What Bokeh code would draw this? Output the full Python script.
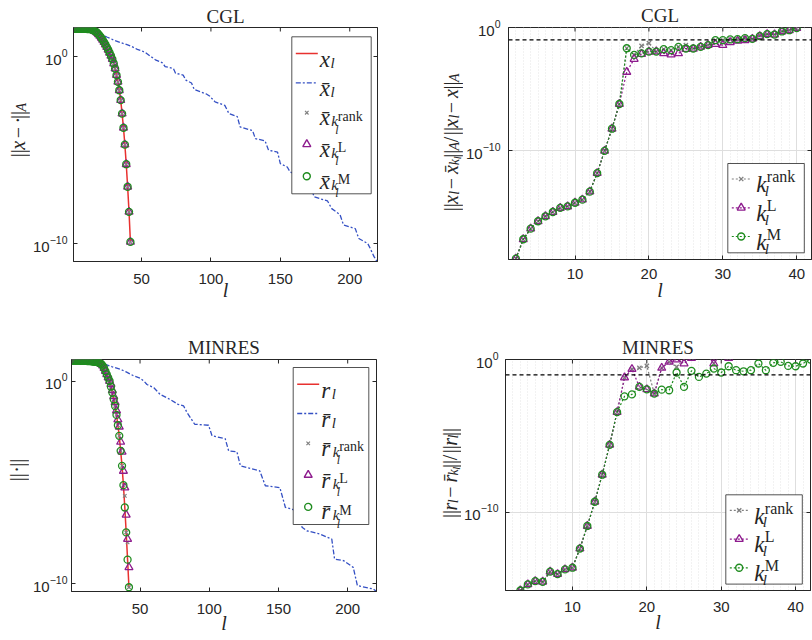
import math
import numpy as np
from bokeh.plotting import figure
from bokeh.core.properties import value
from bokeh.models import (Range1d, LogAxis, FixedTicker, LogTickFormatter,
                          CustomJSTickFormatter, Span, Title)
from bokeh.layouts import column, row
from bokeh.embed import file_html
from bokeh.resources import INLINE

# ================= data (all values are log10 of the plotted quantity) =================
# --- CGL, left panel: error norms ---
cgl_l = list(range(1, 43))
cgl_xl_log = [1.50, 1.50, 1.50, 1.50, 1.50, 1.50, 1.50, 1.50, 1.50, 1.50, 1.49, 1.49, 1.48,
              1.46, 1.43, 1.39, 1.35, 1.29, 1.21, 1.12, 1.02, 0.91, 0.79, 0.66, 0.52, 0.38,
              0.22, 0.06, -0.12, -0.36, -0.63, -0.98, -1.34, -1.79, -2.32, -3.04, -3.80,
              -4.70, -5.75, -6.96, -8.30, -9.91]
cgl_rank_log = list(cgl_xl_log)
cgl_L_log = list(cgl_xl_log)
cgl_M_log = list(cgl_xl_log)
cgl_xbar_l = [1, 8, 14, 18, 21, 25, 30, 35, 40, 43, 47, 50, 53, 56, 58, 60, 65, 67, 73, 74.5,
              80, 82, 86, 88, 97, 99, 103, 110, 113, 119, 121, 130, 132, 139, 141.5, 148, 150,
              155, 157, 163, 166, 168, 172, 174.5, 184, 187, 193, 195.5, 204, 206.5, 213, 215,
              217.5, 220]
cgl_xbar_log = [1.50, 1.50, 1.44, 1.32, 1.20, 1.06, 0.90, 0.76, 0.64, 0.55, 0.40, 0.33, 0.22,
                0.05, -0.05, -0.16, -0.32, -0.52, -0.63, -0.88, -0.98, -1.25, -1.40, -1.75,
                -2.00, -2.10, -2.41, -2.60, -3.04, -3.20, -3.75, -3.95, -4.38, -4.50, -5.00,
                -5.10, -5.72, -5.90, -6.16, -6.34, -6.50, -6.90, -7.05, -7.50, -7.72, -8.13,
                -8.45, -9.00, -9.20, -9.73, -10.00, -10.30, -10.70, -11.00]

# --- CGL, right panel: relative distances ---
cgl_rel_l = list(range(2, 41))
cgl_rel_M_log = [-18.73, -17.16, -16.30, -15.70, -15.30, -14.95, -14.62, -14.50, -14.20,
                 -13.95, -13.30, -11.80, -10.00, -8.20, -6.20,
                 -1.68, -2.22, -2.10, -1.95, -1.95, -1.76, -1.84, -1.57, -1.70, -1.70, -1.57,
                 -1.43, -1.03, -1.03, -0.97, -0.95, -0.86, -0.92, -0.70, -0.54, -0.57, -0.32,
                 -0.22, -0.05]
cgl_rel_L_log = [-18.73, -17.16, -16.30, -15.70, -15.30, -14.95, -14.62, -14.50, -14.20,
                 -13.95, -13.30, -11.80, -10.00, -8.20, -6.20,
                 -3.60, -2.55, -2.15, -1.97, -1.95, -2.10, -2.20, -2.10, -1.75, -1.73, -1.57,
                 -1.43, -1.35, -1.43, -1.20, -1.08, -1.03, -0.92, -0.70, -0.54, -0.57, -0.32,
                 -0.22, -0.05]
cgl_rel_rank_log = [-18.73, -17.16, -16.30, -15.70, -15.30, -14.95, -14.62, -14.50, -14.20,
                    -13.95, -13.30, -11.80, -10.00, -8.20, -6.20,
                    -1.68, -2.22, -1.49, -1.27, -1.95, -1.76, -1.84, -1.57, -1.43, -1.70, -1.57,
                    -1.43, -1.03, -1.03, -0.97, -0.95, -0.86, -0.92, -0.60, -0.54, -0.57, -0.32,
                    -0.22, -0.05]
cgl_threshold = 0.1

# --- MINRES, left panel: residual norms ---
mr_l = list(range(1, 43))
mr_rl_log = [1.00, 1.00, 1.00, 1.00, 1.00, 1.00, 0.99, 0.99, 0.99, 0.99, 0.99, 0.98, 0.98,
             0.98, 0.97, 0.96, 0.95, 0.94, 0.93, 0.91, 0.88, 0.84, 0.76, 0.64, 0.49, 0.33,
             0.17, 0.00, -0.28, -0.57, -0.90, -1.23, -1.67, -2.18, -2.70, -3.44, -4.18,
             -5.13, -6.23, -7.46, -8.80, -10.16]
mr_M_log = list(mr_rl_log)
mr_L_log = [1.00, 1.00, 1.00, 1.00, 1.00, 1.00, 0.99, 0.99, 0.99, 0.99, 0.99, 0.98, 0.98,
            0.98, 0.97, 0.96, 0.95, 0.94, 0.93, 0.91, 0.88, 0.84, 0.76, 0.64, 0.49, 0.33,
            0.17, 0.00, -0.15, -0.45, -0.75, -1.05, -1.45, -1.90, -2.25, -3.00, -3.49,
            -4.43, -5.25, -6.59, -7.79, -9.18]
mr_rank_log = [1.00, 1.00, 1.00, 1.00, 1.00, 1.00, 0.99, 0.99, 0.99, 0.99, 0.99, 0.98, 0.98,
               0.98, 0.97, 0.96, 0.95, 0.94, 0.93, 0.91, 0.88, 0.84, 0.76, 0.64, 0.49, 0.33,
               0.17, 0.00, -0.28, -0.57, -0.90, -1.23, -1.67, -2.18, -2.70, -3.44, -4.18,
               -5.13, -5.66, -7.46, -7.95, -10.16]
mr_rbar_l = [1, 10, 15, 20, 25, 30, 36, 40, 45, 50, 53, 55, 60, 64.5, 70, 72, 77.5, 81.5, 84,
             89.5, 99.5, 102, 111.5, 114, 120, 122.5, 136.5, 140.5, 151, 155, 160, 165, 167,
             170.5, 180, 188.5, 190.5, 197, 204, 207, 218.5, 221]
mr_rbar_log = [1.00, 1.00, 0.99, 0.95, 0.82, 0.70, 0.57, 0.45, 0.27, 0.14, -0.02, -0.17, -0.33,
               -0.66, -0.85, -0.92, -1.15, -1.23, -1.56, -2.13, -2.18, -2.70, -2.84, -3.44,
               -3.49, -4.18, -4.43, -5.16, -5.25, -6.23, -6.32, -6.45, -7.20, -7.38, -7.54,
               -7.79, -8.77, -8.85, -9.18, -10.08, -10.25, -10.38]

# --- MINRES, right panel: relative distances ---
mr_rel_l = list(range(3, 43))
mr_rel_M_log = [-15.10, -14.70, -14.49, -14.53, -13.87, -14.03, -13.72, -13.61, -12.36,
                -10.88, -9.30, -7.53, -5.58, -3.44,
                -2.41, -2.28, -1.79, -1.95, -2.23, -1.97, -2.01, -0.85, -1.79, -0.74, -1.14,
                -0.92, -0.59, -0.85, -0.44, -0.70, -0.77, -0.70, -0.26, -0.70, -0.22, -0.15,
                -0.42, -0.44, -0.26, 0.00]
mr_rel_Lr_l = list(range(3, 32))
mr_rel_L_log = [-15.10, -14.70, -14.49, -14.53, -13.87, -14.03, -13.72, -13.61, -12.36,
                -10.88, -9.30, -7.53, -5.58, -3.44,
                -1.18, -0.63, -1.79, -1.95, -2.23, -0.55, -0.15, 0.00, -0.26, 0.10, 0.40,
                0.40, -0.26, 0.40, 0.10]
mr_rel_rank_log = [-15.10, -14.70, -14.49, -14.53, -13.87, -14.03, -13.72, -13.61, -12.36,
                   -10.88, -9.30, -7.53, -5.58, -3.44,
                   -1.18, -0.63, -0.55, -0.42, -2.23, -0.55, -0.15, -0.48, 0.00, 0.10, 0.40,
                   0.40, -0.26, 0.40, 0.10]
mr_threshold = 0.1

big_xticks = [50, 100, 150, 200]
small_xticks = [10, 20, 30, 40]
y_ticks = [1e-10, 1.0]

# ================= styling =================
RED = "#e8312f"
BLUE = "#3450c4"
GRAY = "#808080"
PURPLE = "#8e1c8e"
GREEN = "#1f8c1f"
AX = "#262626"
SANS = "Liberation Sans"
SERIF = "Liberation Serif"
EM = 20.6  # TeX em of axis labels (px)
DASHDOT = "5 2 2 2"
DOTTED = "2 2"
TICK_FONT = "15px"
# approximate glyph advances (em) of Liberation Serif, used to centre label pieces
W_REG = {"|": 0.2, "\u2212": 0.564, "\u00b7": 0.25, "/": 0.278}
W_IT = {"x": 0.444, "l": 0.278, "k": 0.444, "r": 0.389, "A": 0.611}


def text_width(t, size, style):
    tab = W_IT if style == "italic" else W_REG
    return sum(tab.get(ch, 0.5) for ch in t if ch != "\u0304") * size


class Geo:
    """frame geometry in page pixels and axis ranges (x linear, y log10)"""
    def __init__(self, L, T, fw, fh, xr, lyr):
        self.L, self.T, self.fw, self.fh = L, T, fw, fh
        self.B = T + fh
        self.xr, self.lyr = xr, lyr

    def x(self, px):
        return self.xr[0] + (px - self.L) / self.fw * (self.xr[1] - self.xr[0])

    def y(self, py):
        return 10 ** (self.lyr[0] + (self.B - py) / self.fh * (self.lyr[1] - self.lyr[0]))


def style_axis(a, size=TICK_FONT, standoff=6):
    a.major_tick_in = 4
    a.major_tick_out = 0
    a.minor_tick_in = 0
    a.minor_tick_out = 0
    a.axis_line_color = AX
    a.major_tick_line_color = AX
    a.major_label_text_font = SANS
    a.major_label_text_font_size = size
    a.major_label_text_color = AX
    a.major_label_standoff = standoff


def make_fig(g, ox, oy, fig_w, fig_h, xticks, grid, xstand, ystand, title, tstand,
             xlab_stand):
    left = int(round(g.L - ox))
    top = int(round(g.T - oy))
    right = fig_w - left - g.fw
    bottom = fig_h - top - g.fh
    p = figure(frame_width=g.fw, frame_height=g.fh,
               min_border_left=left, min_border_right=right,
               min_border_top=top, min_border_bottom=bottom,
               x_range=Range1d(*g.xr),
               y_range=Range1d(10 ** g.lyr[0], 10 ** g.lyr[1]),
               y_axis_type="log", output_backend="svg", toolbar_location=None,
               title=None, background_fill_color="white", border_fill_color="white")
    p.outline_line_color = AX
    p.outline_line_width = 1
    xa = p.xaxis[0]
    ya = p.yaxis[0]
    xa.ticker = FixedTicker(ticks=xticks)
    ya.ticker = FixedTicker(ticks=y_ticks)
    ya.formatter = LogTickFormatter()
    style_axis(xa, standoff=xstand)
    style_axis(ya, standoff=ystand)
    xa.axis_label = "l"
    xa.axis_label_text_font = SERIF
    xa.axis_label_text_font_style = "italic"
    xa.axis_label_text_font_size = "20px"
    xa.axis_label_text_color = AX
    xa.axis_label_standoff = xlab_stand
    rt = LogAxis(ticker=FixedTicker(ticks=y_ticks),
                 formatter=CustomJSTickFormatter(code="return '';"))
    style_axis(rt, size="1px", standoff=0)
    p.add_layout(rt, "right")
    p.add_layout(Title(text=title, align="center", text_font=SERIF, text_font_size="19px",
                       text_font_style="normal", text_color=AX, standoff=tstand), "above")
    # inward tick marks on the top edge of the box
    p.segment(x0=xticks, x1=xticks, y0=[g.y(g.T)] * len(xticks),
              y1=[g.y(g.T + 4)] * len(xticks), line_color=AX, line_width=1)
    if grid:
        p.xgrid.ticker = FixedTicker(ticks=xticks, minor_ticks=list(range(1, 43)))
        p.xgrid.grid_line_color = "#dedede"
        p.xgrid.minor_grid_line_color = "#e4e4e4"
        p.xgrid.minor_grid_line_dash = "1 2"
        p.ygrid.ticker = FixedTicker(ticks=y_ticks)
        p.ygrid.grid_line_color = "#dedede"
    else:
        p.xgrid.visible = False
        p.ygrid.visible = False
    return p


def side_fig(w, h):
    f = figure(width=w, height=h, x_range=Range1d(0, w), y_range=Range1d(h, 0),
               min_border_left=0, min_border_right=0, min_border_top=0, min_border_bottom=0,
               x_axis_location=None, y_axis_location=None, toolbar_location=None,
               output_backend="svg", title=None, background_fill_color="white",
               border_fill_color="white")
    f.outline_line_color = None
    f.xgrid.visible = False
    f.ygrid.visible = False
    return f


def txt(p, x, y, text, size, style="normal", align="left", baseline="alphabetic", angle=0.0):
    p.text(x=[x], y=[y], text=[text], text_font=value(SERIF),
           text_font_size=value(f"{size}px"), text_font_style=value(style),
           text_align=value(align), text_baseline=value(baseline), angle=angle,
           text_color=AX)


def lab(p, g, px, py, text, size, style="normal"):
    txt(p, g.x(px), g.y(py), text, size, style)


def vlabel(f, base_x, center_y, runs):
    # runs: (text, size, style, baseline shift px, advance in em); f uses pixel coords
    total = sum(r[4] for r in runs) * EM
    y = center_y + total / 2
    for t, s, st, sh, adv in runs:
        w = text_width(t, s, st)
        txt(f, base_x + sh, y - w / 2, t, s, st, align="center", angle=math.pi / 2)
        y -= adv * EM


def arr(v):
    return 10 ** np.array(v, dtype=float)


def left_legend(p, g, bl, bt, bw, sym):
    bh = 157
    p.quad(left=[g.x(bl)], right=[g.x(bl + bw)], top=[g.y(bt)], bottom=[g.y(bt + bh)],
           fill_color="white", line_color=AX, line_width=0.8)
    ys = [bt + d for d in (16.7, 46.0, 75.9, 107.5, 139.4)]
    p.line([g.x(bl + 4), g.x(bl + 26)], [g.y(ys[0])] * 2, line_color=RED, line_width=1.5)
    p.line([g.x(bl + 4), g.x(bl + 26)], [g.y(ys[1])] * 2, line_color=BLUE,
           line_width=1.3, line_dash=DASHDOT)
    p.scatter([g.x(bl + 15)], [g.y(ys[2])], marker="x", size=5, line_color=GRAY, line_width=1.2)
    p.scatter([g.x(bl + 15)], [g.y(ys[3])], marker="triangle", size=8, line_color=PURPLE,
              fill_color=None, line_width=1.4)
    p.scatter([g.x(bl + 15)], [g.y(ys[4])], marker="circle", size=7, line_color=GREEN,
              fill_color=None, line_width=1.4)
    lab(p, g, bl + 28, ys[0] + 6, sym, 23, "italic")
    lab(p, g, bl + 38.6, ys[0] + 9.5, "l", 15, "italic")
    lab(p, g, bl + 28, ys[1] + 6, sym + "\u0304", 23, "italic")
    lab(p, g, bl + 38.6, ys[1] + 9.5, "l", 15, "italic")
    for yy, sup in zip(ys[2:], ("rank", "L", "M")):
        lab(p, g, bl + 28, yy + 5, sym + "\u0304", 23, "italic")
        lab(p, g, bl + 39.5, yy + 8.5, "k", 15, "italic")
        lab(p, g, bl + 46, yy + 3.4, sup, 14, "normal")
        lab(p, g, bl + 43.5, yy + 17, "l", 12, "italic")


def right_legend(p, g, bl, bt):
    bw, bh = 76.5, 89.3
    p.quad(left=[g.x(bl)], right=[g.x(bl + bw)], top=[g.y(bt)], bottom=[g.y(bt + bh)],
           fill_color="white", line_color=AX, line_width=0.8)
    ys = [bt + d for d in (15.5, 44.3, 73.0)]
    specs = [(GRAY, "x", 6, "rank"), (PURPLE, "triangle", 8, "L"), (GREEN, "circle", 7, "M")]
    for yy, (c, m, s, sup) in zip(ys, specs):
        p.line([g.x(bl + 4), g.x(bl + 22)], [g.y(yy)] * 2, line_color=c, line_width=1.2,
               line_dash=DOTTED)
        p.scatter([g.x(bl + 13.4)], [g.y(yy)], marker=m, size=s, line_color=c,
                  fill_color=None, line_width=1.4)
        lab(p, g, bl + 28.4, yy + 5.7, "k", 23, "italic")
        lab(p, g, bl + 39, yy - 2.3, sup, 16, "normal")
        lab(p, g, bl + 37, yy + 12, "l", 15, "italic")


def rel_series(p, l, v, c, m, s):
    p.line(l, arr(v), line_color=c, line_width=1.2, line_dash=DOTTED)
    p.scatter(l, arr(v), marker=m, size=s, line_color=c, fill_color=None, line_width=1.3)


# ================= top-left: CGL errors =================
W1 = 30
g1 = Geo(73, 24, 304, 234, (1, 220), (-10.96, 1.57))
p1 = make_fig(g1, W1, 0, 406 - W1, 320, big_xticks, False, 12, 6, "CGL", 1, -8)
p1.line(cgl_l, arr(cgl_xl_log), line_color=RED, line_width=1.5)
p1.line(cgl_xbar_l, arr(cgl_xbar_log), line_color=BLUE, line_width=1.3, line_dash=DASHDOT)
p1.scatter(cgl_l, arr(cgl_rank_log), marker="x", size=5, line_color=GRAY, line_width=1.2)
p1.scatter(cgl_l, arr(cgl_L_log), marker="triangle", size=8, line_color=PURPLE,
           fill_color=None, line_width=1.3)
p1.scatter(cgl_l, arr(cgl_M_log), marker="circle", size=7, line_color=GREEN,
           fill_color=None, line_width=1.3)
left_legend(p1, g1, 291.3, 33.3, 79.4, "x")
s1 = side_fig(W1, 320)
vlabel(s1, 17, 141, [("||", 20, "normal", 0, 0.5), ("x", 20, "italic", 0, 0.794),
                     ("\u2212", 20, "normal", 0, 1.0), ("\u00b7", 20, "normal", 0, 0.278),
                     ("||", 20, "normal", 0, 0.5), ("A", 14, "italic", 4, 0.525)])

# ================= top-right: CGL relative =================
W2 = 57
g2 = Geo(506, 26, 303, 232, (1, 42), (-18.8, 0.0))
p2 = make_fig(g2, 406 + W2, 0, 406 - W2, 320, small_xticks, True, 9, 8, "CGL", 4, -3)
rel_series(p2, cgl_rel_l, cgl_rel_rank_log, GRAY, "x", 6)
rel_series(p2, cgl_rel_l, cgl_rel_L_log, PURPLE, "triangle", 8)
rel_series(p2, cgl_rel_l, cgl_rel_M_log, GREEN, "circle", 7)
p2.add_layout(Span(location=cgl_threshold, dimension="width", line_color="black",
                   line_dash="4 3", line_width=1.2))
right_legend(p2, g2, 725.3, 162)
s2 = side_fig(W2, 320)
vlabel(s2, 44, 158, [("||", 20, "normal", 0, 0.5), ("x", 20, "italic", 0, 0.572),
                     ("l", 14, "italic", 4, 0.432), ("\u2212", 20, "normal", 0, 1.0),
                     ("x\u0304", 20, "italic", 0, 0.572), ("k", 14, "italic", 4, 0.365),
                     ("l", 10.5, "italic", 7, 0.15), ("||", 20, "normal", 0, 0.5),
                     ("A", 14, "italic", 4, 0.525), ("/", 20, "normal", 0, 0.5),
                     ("||", 20, "normal", 0, 0.5), ("x", 20, "italic", 0, 0.572),
                     ("l", 14, "italic", 4, 0.432), ("\u2212", 20, "normal", 0, 1.0),
                     ("x", 20, "italic", 0, 0.572), ("||", 20, "normal", 0, 0.5),
                     ("A", 14, "italic", 4, 0.525)])

# ================= bottom-left: MINRES residuals =================
W3 = 29
g3 = Geo(71, 357, 305, 232, (0.5, 220.8), (-10.37, 1.06))
p3 = make_fig(g3, W3, 320, 406 - W3, 320, big_xticks, False, 12, 4, "MINRES", 4, -5)
p3.line(mr_l, arr(mr_rl_log), line_color=RED, line_width=1.5)
p3.line(mr_rbar_l, arr(mr_rbar_log), line_color=BLUE, line_width=1.3, line_dash=DASHDOT)
p3.scatter(mr_l, arr(mr_rank_log), marker="x", size=5, line_color=GRAY, line_width=1.2)
p3.scatter(mr_l, arr(mr_L_log), marker="triangle", size=8, line_color=PURPLE,
           fill_color=None, line_width=1.3)
p3.scatter(mr_l, arr(mr_M_log), marker="circle", size=7, line_color=GREEN,
           fill_color=None, line_width=1.3)
left_legend(p3, g3, 292.7, 365, 75.6, "r")
s3 = side_fig(W3, 320)
vlabel(s3, 16.5, 472 - 320, [("||", 20, "normal", 0, 0.6), ("\u00b7", 20, "normal", 0, 0.378),
                             ("||", 20, "normal", 0, 0.5)])

# ================= bottom-right: MINRES relative =================
W4 = 55
g4 = Geo(503, 358, 305, 231, (1, 42), (-15.1, 0.0))
p4 = make_fig(g4, 406 + W4, 320, 406 - W4, 320, small_xticks, True, 11, 7, "MINRES", 4, -4)
rel_series(p4, mr_rel_Lr_l, mr_rel_rank_log, GRAY, "x", 6)
rel_series(p4, mr_rel_Lr_l, mr_rel_L_log, PURPLE, "triangle", 8)
rel_series(p4, mr_rel_l, mr_rel_M_log, GREEN, "circle", 7)
p4.add_layout(Span(location=mr_threshold, dimension="width", line_color="black",
                   line_dash="4 3", line_width=1.2))
right_legend(p4, g4, 723.3, 493.3)
s4 = side_fig(W4, 320)
vlabel(s4, 43, 476 - 320, [("||", 20, "normal", 0, 0.5), ("r", 20, "italic", 0, 0.451),
                           ("l", 14, "italic", 4, 0.432),
                           ("\u2212", 20, "normal", 0, 1.0),
                           ("r\u0304", 20, "italic", 0, 0.451),
                           ("k", 14, "italic", 4, 0.365),
                           ("l", 10.5, "italic", 7, 0.15), ("||", 20, "normal", 0, 0.5),
                           ("/", 20, "normal", 0, 0.5), ("||", 20, "normal", 0, 0.5),
                           ("r", 20, "italic", 0, 0.451), ("l", 14, "italic", 4, 0.21),
                           ("||", 20, "normal", 0, 0.5)])

layout = column(row(s1, p1, s2, p2), row(s3, p3, s4, p4))
open("out.html", "w").write(file_html(layout, INLINE))
